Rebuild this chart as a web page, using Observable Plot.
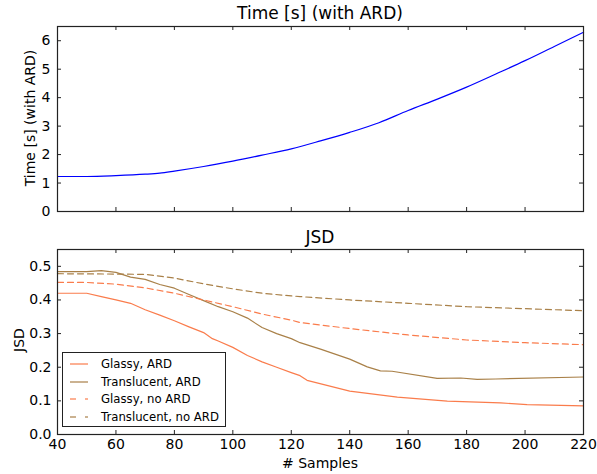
<!DOCTYPE html>
<html><head><meta charset="utf-8">
<script src="https://cdn.jsdelivr.net/npm/d3@7"></script>
<script src="https://cdn.jsdelivr.net/npm/@observablehq/plot@0.6"></script>
<style>
body{margin:0;background:#fff;font-family:"DejaVu Sans",sans-serif;}
#wrap{position:relative;width:597px;height:474px;}
.ttl{position:absolute;width:526px;left:57px;text-align:center;font-size:17px;line-height:1;color:#000;white-space:nowrap;}
.pl{position:absolute;left:0;}
#legend{position:absolute;left:62px;top:352px;width:164px;height:75px;border:1px solid #222;background:#fff;box-sizing:border-box;font-size:11.7px;}
.row{position:absolute;left:0;height:17px;display:flex;align-items:center;white-space:nowrap;}
.row svg{margin-left:7px;margin-right:13px;}
</style></head>
<body><div id="wrap"></div>
<script>
const timeX = [40, 50, 60, 70, 75, 80, 90, 100, 110, 120, 130, 140, 150, 160, 170, 180, 190, 200, 210, 220];
const timeY = [1.23, 1.23, 1.26, 1.31, 1.35, 1.42, 1.58, 1.77, 1.98, 2.20, 2.48, 2.78, 3.12, 3.55, 3.95, 4.37, 4.83, 5.30, 5.80, 6.30];

const glassyArdX = [40, 50, 55, 60, 65, 70, 75, 80, 85, 90, 93, 95, 100, 105, 110, 115, 120, 123, 125.4, 140, 156.3, 173.4, 191.6, 200.7, 220];
const glassyArdY = [0.42, 0.42, 0.41, 0.40, 0.39, 0.371, 0.355, 0.338, 0.32, 0.303, 0.285, 0.278, 0.259, 0.235, 0.216, 0.20, 0.184, 0.175, 0.161, 0.129, 0.111, 0.099, 0.094, 0.089, 0.085];

const transArdX = [40, 50, 55, 60, 65, 70, 75, 80, 85, 90, 95, 100, 105, 110, 115, 120, 123, 130, 140, 146, 150.5, 154.5, 169.9, 178, 183.6, 190, 220];
const transArdY = [0.484, 0.484, 0.487, 0.482, 0.468, 0.461, 0.446, 0.435, 0.416, 0.398, 0.38, 0.365, 0.346, 0.318, 0.30, 0.285, 0.273, 0.254, 0.224, 0.201, 0.189, 0.188, 0.167, 0.168, 0.164, 0.165, 0.171];

const glassyNoX = [40, 50, 60, 70, 80, 90, 100, 110, 120, 123, 140, 160, 180, 200, 220];
const glassyNoY = [0.452, 0.452, 0.447, 0.436, 0.42, 0.40, 0.38, 0.358, 0.34, 0.333, 0.315, 0.296, 0.281, 0.273, 0.267];

const transNoX = [40, 60, 70, 80, 90, 100, 110, 120, 123, 140, 160, 180, 200, 220];
const transNoY = [0.478, 0.477, 0.476, 0.465, 0.448, 0.433, 0.42, 0.412, 0.41, 0.40, 0.39, 0.38, 0.374, 0.368];

const xTicks = [40, 60, 80, 100, 120, 140, 160, 180, 200, 220];
const timeTicks = [0, 1, 2, 3, 4, 5, 6];
const jsdTicks = [0.0, 0.1, 0.2, 0.3, 0.4, 0.5];

const ORANGE = "#fa7c4c", BROWN = "#a98048";
const series = [
  {name: "Glassy, ARD", xs: glassyArdX, ys: glassyArdY, color: ORANGE, dash: null},
  {name: "Translucent, ARD", xs: transArdX, ys: transArdY, color: BROWN, dash: null},
  {name: "Glassy, no ARD", xs: glassyNoX, ys: glassyNoY, color: ORANGE, dash: "6,4"},
  {name: "Translucent, no ARD", xs: transNoX, ys: transNoY, color: BROWN, dash: "6,4"}
];

const W = 597, ML = 57, MR = 14;
const innerW = W - ML - MR;
const FS = 14;

function frameTicks(innerH, xInner, yInner) {
  const L = 4;
  return [
    Plot.ruleX(xInner, {stroke: "#222", insetTop: innerH - L}),
    Plot.ruleX(xInner, {stroke: "#222", insetBottom: innerH - L}),
    Plot.ruleY(yInner, {stroke: "#222", insetRight: innerW - L}),
    Plot.ruleY(yInner, {stroke: "#222", insetLeft: innerW - L}),
    Plot.frame({stroke: "#222", strokeWidth: 1.2})
  ];
}

const wrap = document.getElementById("wrap");

// Top chart
const topH = 230, topMT = 26, topMB = 19;
const topInner = topH - topMT - topMB;
const timeData = timeX.map((x, i) => ({x, y: timeY[i]}));
const topChart = Plot.plot({
  width: W, height: topH, marginLeft: ML, marginRight: MR, marginTop: topMT, marginBottom: topMB,
  style: {fontFamily: "DejaVu Sans", fontSize: FS + "px", color: "#000", background: "#fff"},
  x: {domain: [40, 220]},
  y: {domain: [0, 6.5]},
  marks: [
    Plot.line(timeData, {x: "x", y: "y", stroke: "#0000ff", strokeWidth: 1.2, curve: "monotone-x"}),
    ...frameTicks(topInner, xTicks.slice(1, -1), timeTicks.slice(1)),
    Plot.axisX({ticks: [], tickSize: 0, label: null}),
    Plot.axisY({ticks: timeTicks, tickSize: 0, tickPadding: 7, label: null, fontSize: FS, tickFormat: d3.format("d")})
  ]
});
topChart.classList.add("pl");
topChart.style.top = "0px";
wrap.appendChild(topChart);

// Bottom chart
const botTop = 223, botH = 251, botMT = 26, botMB = 40;
const botInner = botH - botMT - botMB;
const jsdData = series.flatMap(s => s.xs.map((x, i) => ({x, y: s.ys[i], name: s.name})));
const botChart = Plot.plot({
  width: W, height: botH, marginLeft: ML, marginRight: MR, marginTop: botMT, marginBottom: botMB,
  style: {fontFamily: "DejaVu Sans", fontSize: FS + "px", color: "#000", background: "#fff"},
  x: {domain: [40, 220]},
  y: {domain: [0, 0.55]},
  marks: [
    ...series.map(s => Plot.line(jsdData.filter(d => d.name === s.name), {x: "x", y: "y", stroke: s.color, strokeWidth: 1.2, strokeDasharray: s.dash})),
    ...frameTicks(botInner, xTicks.slice(1, -1), jsdTicks.slice(1)),
    Plot.axisX({ticks: xTicks, tickSize: 0, tickPadding: 5, label: null, fontSize: FS, tickFormat: d3.format("d")}),
    Plot.axisY({ticks: jsdTicks, tickSize: 0, tickPadding: 6, label: null, fontSize: FS, tickFormat: d3.format(".1f")})
  ]
});
botChart.classList.add("pl");
botChart.style.top = botTop + "px";
wrap.appendChild(botChart);

// Titles and labels
function addDiv(cls, text, css) {
  const d = document.createElement("div");
  d.className = cls; d.textContent = text;
  Object.assign(d.style, css);
  wrap.appendChild(d);
  return d;
}
addDiv("ttl", "Time [s] (with ARD)", {top: "5px"});
addDiv("ttl", "JSD", {top: "229px"});
addDiv("ttl", "# Samples", {top: "456px", fontSize: "14px"});
const rot = {position: "absolute", fontSize: "14px", lineHeight: "1", transform: "translate(-50%,-50%) rotate(-90deg)", whiteSpace: "nowrap"};
addDiv("", "Time [s] (with ARD)", {...rot, left: "30px", top: "118px"});
addDiv("", "JSD", {...rot, left: "19px", top: "340px"});

// Legend
const leg = document.createElement("div");
leg.id = "legend";
series.forEach((s, i) => {
  const r = document.createElement("div");
  r.className = "row";
  r.style.top = (2.5 + i * 17.6) + "px";
  r.innerHTML = `<svg width="18" height="6"><line x1="0" y1="3" x2="18" y2="3" stroke="${s.color}" stroke-opacity="0.8" stroke-width="1.5" ${s.dash ? 'stroke-dasharray="6,9"' : ''}/></svg><span>${s.name}</span>`;
  leg.appendChild(r);
});
wrap.appendChild(leg);
</script></body></html>
